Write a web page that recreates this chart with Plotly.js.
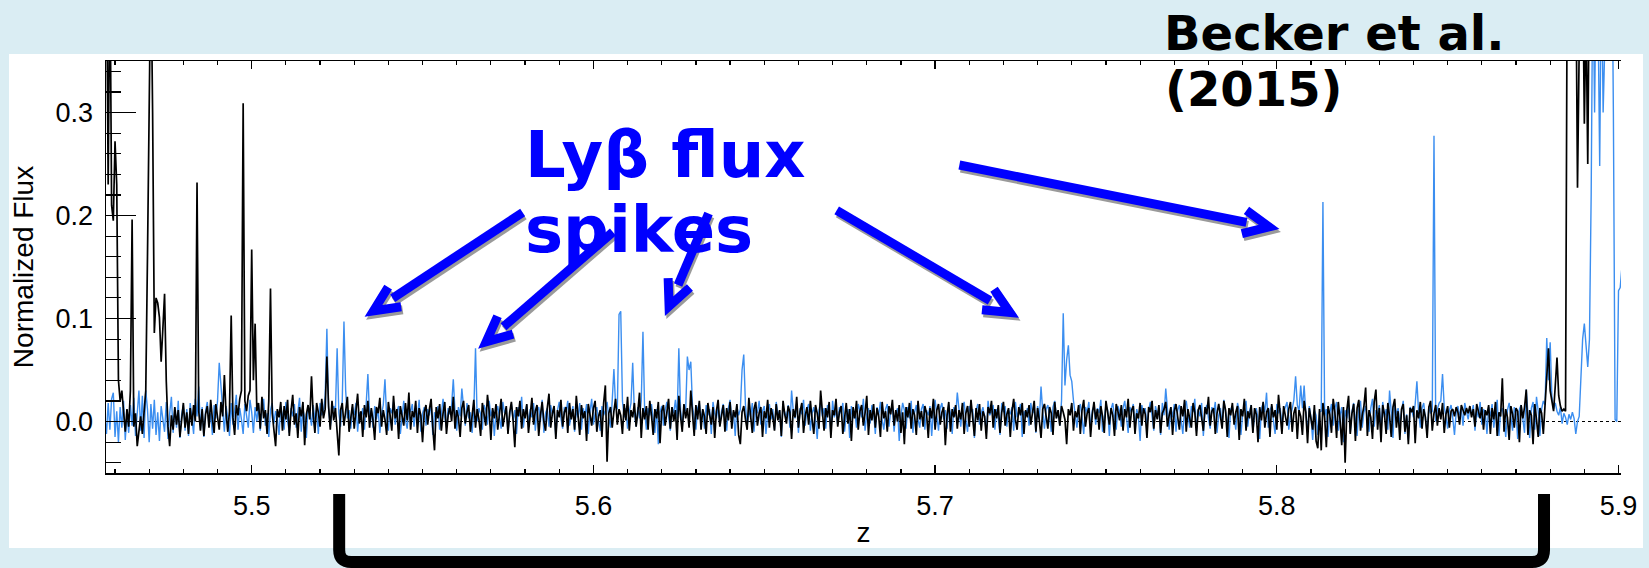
<!DOCTYPE html>
<html>
<head>
<meta charset="utf-8">
<script src="https://cdn.plot.ly/plotly-3.0.1.min.js"></script>
<style>
html,body{margin:0;padding:0;background:#daedf3;}
#chart{width:1649px;height:568px;}
</style>
</head>
<body>
<div id="chart"></div>
<script>
// ---- data: redshift sampling of the spectra ----
const Z_START = 5.457;
const Z_STEP = 0.0005;

// black: Lyman-alpha normalized flux (one value per sample, from Z_START)
const LYA_FLUX = [
0.45,0.45,0.23,0.45,0.21,0.195,0.272,0.23,0.04,0.02,
0.03,0.005,-0.01,0.012,-0.005,0.03,0.196,-0.005,0.008,-0.024,
-0.01,0.005,-0.012,0.008,0.03,0.16,0.45,0.45,0.30,0.086,
0.12,0.115,0.101,0.058,0.09,0.124,0.039,-0.005,-0.024,0.006,
-0.008,0.014,-0.003,0.011,-0.015,0.004,0.018,-0.006,0.009,-0.012,
0.013,-0.004,0.016,0.0,0.232,0.01,-0.009,0.012,-0.014,0.007,
0.015,-0.006,0.021,0.002,-0.011,0.017,0.003,-0.008,0.019,0.005,
0.045,0.008,-0.01,0.01,0.103,0.004,-0.013,0.016,0.006,0.022,
0.03,0.309,0.02,0.01,0.025,0.03,0.167,0.04,0.095,0.01,
0.018,-0.007,0.024,0.003,0.011,-0.012,0.02,0.129,0.008,-0.006,
-0.024,0.012,0.004,0.019,-0.009,0.015,0.002,0.021,-0.014,0.01,
0.026,-0.003,0.008,-0.016,0.014,0.005,0.019,-0.023,0.007,0.016,
0.002,0.044,0.006,-0.011,0.018,0.009,-0.005,0.022,0.003,0.012,
0.063,0.015,-0.008,0.02,0.001,0.013,-0.012,-0.033,0.011,0.018,
-0.004,0.009,0.024,-0.01,0.006,0.017,-0.007,0.012,0.027,-0.002,
0.01,-0.015,0.016,0.004,0.02,-0.006,0.013,0.001,-0.018,0.014,
0.008,0.023,-0.005,0.011,0.002,-0.013,0.019,0.006,-0.009,0.025,
0.003,0.012,-0.017,0.015,0.007,-0.004,0.018,0.001,0.028,-0.008,
0.01,0.004,0.02,-0.011,0.013,0.006,-0.02,0.009,0.016,-0.003,
0.012,0.022,-0.006,-0.028,0.014,0.003,0.017,-0.009,0.008,0.019,
-0.012,0.006,0.015,0.0,0.024,-0.007,0.011,0.004,-0.015,0.013,
0.02,-0.002,0.009,0.016,-0.01,0.005,0.021,-0.006,0.012,0.002,
-0.014,0.018,0.007,-0.004,0.026,0.01,-0.018,0.013,0.003,0.017,
-0.008,0.011,0.022,-0.005,0.006,0.015,-0.012,0.009,0.019,0.001,
-0.025,0.014,0.005,0.02,-0.007,0.012,0.003,0.017,-0.011,0.008,
0.023,-0.003,0.01,0.016,-0.014,0.006,0.019,0.0,-0.009,0.013,
0.027,-0.006,0.008,0.015,-0.017,0.011,0.004,0.021,-0.005,0.009,
0.014,-0.011,0.018,0.002,0.012,-0.008,0.025,0.006,-0.013,0.016,
0.003,0.01,-0.019,0.017,0.007,-0.004,0.013,0.02,-0.01,0.005,
0.011,-0.015,0.018,0.035,-0.039,0.008,0.014,-0.006,0.01,0.022,
-0.003,0.012,0.006,-0.012,0.017,0.001,0.024,-0.009,0.011,0.004,
0.018,-0.005,0.009,0.028,-0.016,0.013,0.002,0.015,-0.008,0.02,
0.006,-0.013,0.012,0.003,0.019,-0.021,0.01,0.016,-0.004,0.008,
0.022,-0.007,0.014,0.0,0.011,-0.018,0.025,0.005,-0.01,0.017,
0.003,0.013,-0.006,0.03,0.009,-0.014,0.016,0.002,0.02,-0.008,
0.012,0.005,-0.012,0.018,0.007,-0.003,0.014,-0.016,0.01,0.021,
-0.005,0.008,0.016,-0.01,0.013,0.001,0.019,-0.007,0.011,0.004,
0.017,-0.013,-0.022,0.009,0.015,0.002,-0.008,0.023,0.006,-0.011,
0.012,0.019,-0.004,0.008,0.014,-0.015,0.01,0.003,0.021,-0.006,
0.013,0.005,-0.009,0.017,0.001,0.011,-0.014,0.02,0.007,-0.002,
0.015,0.009,-0.017,0.012,0.004,0.024,-0.006,0.01,0.018,-0.011,
0.006,0.014,-0.003,0.02,0.002,-0.012,0.016,0.008,-0.007,0.03,
0.01,-0.009,0.013,0.004,0.019,-0.016,0.011,0.006,0.022,-0.005,
0.009,0.015,-0.012,0.007,0.018,-0.002,0.012,-0.019,0.014,0.003,
0.02,-0.008,0.01,0.016,-0.004,0.008,0.025,-0.013,0.011,0.001,
0.017,-0.006,0.013,0.005,-0.015,0.019,0.003,0.01,-0.01,0.015,
0.007,0.021,-0.004,0.011,0.0,0.016,-0.011,0.009,-0.022,0.014,
0.004,0.018,-0.007,0.012,0.006,-0.013,0.02,0.002,0.01,-0.005,
0.015,0.008,-0.016,0.013,0.003,0.022,-0.008,0.011,0.017,-0.003,
0.009,0.014,-0.023,0.006,0.019,-0.01,0.012,0.004,0.016,-0.007,
0.011,0.002,0.018,-0.012,0.008,0.015,-0.005,0.021,0.006,-0.014,
0.013,0.001,0.017,-0.009,0.01,0.005,-0.017,0.014,0.008,0.02,
-0.006,0.012,0.003,0.016,-0.011,0.009,0.019,-0.004,0.007,0.013,
-0.015,0.01,0.022,0.002,-0.008,0.014,0.006,0.018,-0.012,0.011,
0.004,0.016,-0.003,0.009,0.02,-0.01,0.013,0.001,-0.016,0.012,
0.017,0.005,-0.007,0.014,0.008,-0.013,0.019,0.003,0.011,-0.004,
0.015,0.009,0.002,-0.022,0.012,0.006,0.018,-0.009,0.01,0.004,
0.016,-0.012,0.011,0.021,-0.005,0.008,0.013,-0.015,0.007,0.019,
0.002,0.012,-0.008,0.015,0.005,-0.011,0.02,0.009,-0.003,0.013,
0.006,-0.014,0.017,0.01,0.001,0.016,-0.009,0.012,0.004,0.022,
-0.006,0.011,0.015,-0.012,0.008,0.003,0.018,-0.004,0.013,0.007,
-0.016,0.014,0.009,0.02,-0.007,0.011,0.002,0.016,-0.011,0.008,
0.012,0.019,-0.005,0.006,0.014,-0.013,0.01,0.017,0.001,-0.008,
0.015,0.005,0.021,-0.01,0.012,0.003,-0.006,0.018,0.009,-0.014,
0.011,0.016,0.002,-0.009,0.014,0.007,0.024,-0.004,0.01,0.013,
-0.012,0.008,0.017,0.004,-0.007,0.02,0.011,-0.015,0.013,0.006,
0.018,-0.003,0.009,0.015,-0.018,0.012,0.005,0.022,-0.009,0.01,
0.003,0.016,-0.011,0.013,0.007,-0.02,0.014,0.001,0.019,-0.006,
0.009,0.013,-0.015,0.017,0.004,0.011,-0.008,0.026,0.002,-0.012,
0.015,0.007,-0.004,0.012,0.019,-0.01,0.008,0.014,-0.017,0.011,
0.005,-0.013,0.02,0.009,-0.021,0.013,0.003,-0.008,0.016,-0.019,
-0.026,0.012,-0.028,0.018,0.004,-0.025,0.015,0.007,-0.011,0.022,
0.009,-0.016,0.019,0.002,-0.023,0.014,-0.04,0.011,0.025,-0.012,
0.008,0.017,-0.019,0.013,0.021,-0.009,0.006,0.015,0.033,-0.014,
0.011,0.004,-0.017,0.019,0.031,-0.008,0.013,-0.02,0.016,0.007,
-0.012,0.018,0.005,-0.015,0.014,0.022,-0.006,0.01,-0.018,0.012,
0.017,-0.01,0.006,-0.022,0.013,0.009,0.015,-0.021,0.011,0.003,
0.019,-0.007,0.012,0.004,-0.016,0.014,0.02,-0.009,0.008,0.016,
-0.004,0.013,0.002,0.018,-0.011,0.007,0.015,-0.006,0.01,0.012,
0.005,0.014,0.009,-0.003,0.016,0.011,0.006,0.013,0.008,0.015,
0.004,0.012,-0.005,0.017,0.01,0.003,0.014,-0.008,0.011,0.006,
0.016,-0.012,0.013,0.002,0.019,-0.014,0.009,0.005,0.042,-0.01,
0.012,0.004,-0.018,0.015,0.007,-0.006,0.013,0.01,-0.02,0.016,
0.003,0.014,0.031,-0.013,0.011,0.006,-0.022,0.017,0.002,-0.015,
0.013,0.008,-0.012,0.018,0.05,0.071,0.03,0.02,0.01,0.035,
0.062,0.025,0.015,0.01,0.012,0.01,0.45,0.5,0.45,0.5,
0.4,0.45,0.227,0.45,0.5,0.45,0.289,0.4,0.25,0.45
];

// blue: Lyman-beta normalized flux (one value per sample, from Z_START)
const LYB_FLUX = [
0.005,-0.012,0.018,-0.008,0.022,0.028,-0.015,0.01,-0.02,0.014,
-0.006,0.02,-0.018,0.008,-0.011,0.016,-0.004,0.023,-0.014,0.006,
0.03,-0.009,0.025,-0.016,0.03,0.012,-0.02,0.017,-0.007,0.021,
-0.013,0.009,-0.019,0.015,0.002,-0.01,0.019,-0.017,0.008,0.024,
-0.011,0.013,-0.006,0.02,-0.016,0.007,0.016,-0.009,0.012,-0.014,
0.018,0.001,-0.012,0.022,0.005,0.034,-0.008,0.014,-0.015,0.01,
0.019,-0.005,0.008,-0.013,0.016,0.003,0.02,0.057,0.035,0.006,
-0.01,0.015,0.004,-0.014,0.018,-0.003,0.011,0.026,-0.008,0.013,
0.002,-0.012,0.017,0.007,-0.006,0.021,0.009,-0.011,0.014,0.0,
0.016,-0.009,0.012,0.022,-0.004,0.008,-0.015,0.011,0.018,-0.002,
0.01,0.003,-0.013,0.015,0.006,-0.008,0.019,0.001,-0.011,0.013,
0.005,0.017,-0.006,0.009,0.023,-0.01,0.012,0.004,-0.016,0.014,
0.008,-0.004,0.016,0.002,0.011,-0.012,0.018,0.006,0.01,0.025,
0.09,0.012,-0.005,0.008,0.015,0.01,0.071,0.008,-0.005,0.02,
0.097,0.03,0.003,0.011,-0.007,0.014,0.006,0.018,-0.01,0.009,
0.004,0.013,-0.008,0.017,0.046,0.005,0.011,-0.006,0.015,0.002,
0.012,-0.011,0.007,0.016,0.041,0.004,-0.009,0.013,0.008,0.019,
-0.003,0.01,0.015,-0.012,0.006,0.02,0.001,-0.007,0.014,0.009,
0.017,-0.005,0.011,0.003,0.021,-0.01,0.008,0.014,-0.004,0.012,
0.006,0.018,-0.013,0.009,0.002,0.015,-0.008,0.011,0.022,0.004,
-0.006,0.013,0.007,0.016,0.041,0.01,-0.009,0.014,0.005,0.032,
0.012,-0.004,0.018,0.003,0.009,-0.011,0.01,0.071,0.0,0.013,
0.007,-0.008,0.016,0.011,-0.003,0.02,0.005,0.012,-0.014,0.009,
0.015,0.002,-0.007,0.019,0.008,0.013,-0.01,0.006,0.017,0.001,
0.011,-0.012,0.014,0.005,0.024,-0.006,0.009,0.016,-0.002,0.012,
0.004,0.018,-0.009,0.01,0.014,0.0,0.021,-0.011,0.008,0.013,
-0.005,0.016,0.007,0.012,-0.015,0.011,0.019,0.003,-0.007,0.014,
0.009,0.02,-0.004,0.006,0.015,-0.01,0.011,0.004,0.018,-0.008,
0.013,0.005,0.017,-0.012,0.01,0.022,-0.003,0.008,0.014,0.001,
-0.009,0.015,0.006,0.011,0.019,0.004,-0.006,0.02,0.051,0.015,
0.012,0.104,0.107,0.02,0.004,0.013,-0.007,0.009,0.018,0.057,
0.008,-0.005,0.014,0.003,0.02,0.087,0.01,-0.008,0.013,0.006,
0.017,0.002,-0.011,0.012,-0.022,0.009,0.015,-0.004,0.011,0.019,
0.005,-0.009,0.014,0.008,0.021,0.003,0.071,0.012,-0.006,0.016,
0.01,0.063,0.05,0.058,0.015,0.004,-0.008,0.013,0.018,0.002,
0.011,-0.007,0.016,0.006,0.012,-0.012,0.019,0.008,0.003,0.014,
-0.004,0.01,0.017,0.005,-0.009,0.013,0.021,0.001,0.009,-0.014,
0.015,0.006,0.012,0.05,0.065,0.016,-0.005,0.011,0.004,0.018,
-0.01,0.013,0.008,0.02,-0.003,0.01,0.015,-0.012,0.007,0.017,
0.002,0.012,-0.008,0.019,0.006,0.011,-0.015,0.014,0.009,0.004,
0.016,-0.006,0.03,0.01,0.003,0.018,-0.011,0.013,0.007,0.021,
-0.004,0.012,0.017,-0.009,0.008,0.014,0.002,-0.017,0.011,0.019,
0.005,0.013,-0.007,0.016,0.009,-0.013,0.02,0.004,0.011,-0.003,
0.014,0.008,0.018,-0.01,0.006,0.012,-0.016,0.015,0.003,0.01,
-0.006,0.017,0.011,0.004,0.022,-0.009,0.007,0.013,-0.002,0.016,
0.009,-0.012,0.014,0.006,0.019,0.001,-0.008,0.012,0.017,-0.005,
0.01,0.015,-0.01,0.008,0.013,-0.019,0.005,0.018,0.011,-0.007,
0.014,0.003,0.02,-0.011,0.009,0.016,0.002,-0.006,0.012,0.017,
-0.008,0.011,0.006,0.015,-0.014,0.01,0.021,0.004,-0.009,0.013,
0.018,0.002,0.011,-0.007,0.016,0.008,-0.012,0.014,0.005,0.028,
0.007,-0.005,0.013,0.019,0.001,-0.01,0.015,0.009,0.012,-0.016,
0.011,0.017,-0.003,0.008,0.014,0.004,-0.011,0.02,0.006,0.01,
0.016,-0.008,0.012,0.003,-0.013,0.018,0.009,0.015,-0.005,0.011,
0.007,0.014,-0.009,0.019,0.004,0.012,0.017,-0.015,0.01,0.005,
0.013,-0.004,0.018,0.008,0.011,-0.011,0.015,0.002,0.034,0.009,
-0.007,0.012,0.016,0.005,-0.01,0.014,0.02,0.003,0.011,-0.004,
0.02,0.105,0.035,0.06,0.074,0.045,0.039,0.02,0.008,-0.006,
0.012,0.017,0.004,-0.012,0.014,0.009,0.019,-0.007,0.011,0.015,
-0.003,0.013,0.008,0.021,-0.01,0.006,0.016,0.011,-0.014,0.012,
0.018,0.004,-0.008,0.015,0.01,-0.005,0.013,0.02,0.002,-0.011,
0.014,0.009,0.017,-0.006,0.012,0.005,-0.019,0.016,0.008,0.013,
-0.004,0.011,0.019,0.003,-0.009,0.015,0.007,0.012,-0.013,0.018,
0.006,0.032,0.01,-0.008,0.014,0.004,0.017,-0.01,0.011,0.016,
0.001,-0.012,0.013,0.02,0.007,-0.006,0.015,0.009,0.022,-0.009,
0.012,0.005,0.018,-0.014,0.01,0.016,0.003,-0.007,0.014,0.008,
0.019,-0.011,0.006,0.013,-0.004,0.021,0.009,0.002,-0.016,0.012,
0.015,0.004,-0.008,0.018,0.011,-0.013,0.007,0.014,0.02,-0.005,
0.01,0.016,-0.01,0.006,0.013,0.003,-0.017,0.012,0.018,0.009,
0.028,-0.006,0.011,0.015,0.002,-0.012,0.017,0.008,0.013,-0.003,
0.009,0.014,0.019,-0.008,0.006,0.012,0.021,0.044,0.016,0.01,
0.035,0.013,0.035,0.007,-0.01,0.015,0.004,-0.018,0.011,0.006,
-0.013,0.009,0.01,0.213,0.005,0.012,-0.015,0.008,0.017,-0.004,
0.013,0.019,-0.009,0.006,0.014,-0.02,0.011,0.003,0.016,-0.011,
0.01,0.018,0.004,-0.014,0.012,0.02,-0.006,0.009,0.015,0.001,
-0.01,0.013,0.022,-0.005,0.011,0.007,0.016,-0.012,0.019,0.004,
0.012,-0.008,0.03,0.009,-0.016,0.018,0.006,0.013,-0.003,0.01,
0.02,-0.012,0.007,-0.018,0.014,0.011,0.004,0.017,0.039,0.009,
-0.006,0.013,0.018,0.002,-0.011,0.015,0.008,0.01,0.2775,0.0,
0.012,0.018,0.02,0.046,0.014,0.005,-0.007,0.011,0.016,0.003,
-0.013,0.009,0.015,0.006,0.012,-0.004,0.018,0.01,0.002,0.013,
0.007,0.016,-0.009,0.011,0.004,0.019,-0.003,0.012,0.008,-0.012,
0.014,0.005,0.017,-0.006,0.01,0.021,-0.014,0.009,0.013,0.002,
-0.015,0.011,0.018,0.004,-0.009,0.014,0.007,-0.017,0.012,0.016,
0.003,-0.011,0.031,0.008,-0.016,0.013,0.019,-0.008,0.024,0.01,
-0.014,0.012,0.02,0.016,0.081,0.04,0.077,0.025,0.012,0.018,
0.01,0.006,0.014,-0.002,0.008,0.004,-0.003,0.007,0.002,0.009,
0.003,-0.012,0.0,0.005,0.04,0.08,0.095,0.07,0.053,0.08,
0.22,0.45,0.3,0.45,0.4,0.248,0.45,0.3,0.5,0.45,
0.5,0.42,0.5,0.3,0.002,0.0,0.127,0.13,0.15
];

// axis ticks
const X_TICKS = [5.5, 5.6, 5.7, 5.8, 5.9];
const X_TICK_LABELS = ['5.5', '5.6', '5.7', '5.8', '5.9'];
const Y_TICKS = [0.0, 0.1, 0.2, 0.3];
const Y_TICK_LABELS = ['0.0', '0.1', '0.2', '0.3'];

// annotation arrows: tip (pointed spike) and tail, in (z, flux)
const ARROW_TIP_Z  = [5.5332, 5.5664, 5.6210, 5.7244, 5.8006];
const ARROW_TIP_F  = [0.102, 0.071, 0.103, 0.101, 0.187];
const ARROW_TAIL_Z = [5.5793, 5.6057, 5.6337, 5.6712, 5.7071];
const ARROW_TAIL_F = [0.203, 0.184, 0.202, 0.205, 0.249];

// bracket under the axis, z range of the region
const BRACKET_Z = [5.5256, 5.8782];

// ---- layout constants ----
const W = 1649, H = 568;
const M = {l: 106, r: 28, t: 61, b: 95};
const PW = W - M.l - M.r, PH = H - M.t - M.b;
const X_RANGE = [5.45736, 5.90073];
const Y_RANGE = [-0.05, 0.35];
const kx = PW / (X_RANGE[1] - X_RANGE[0]);
const ky = PH / (Y_RANGE[1] - Y_RANGE[0]);
function toPx(z, f) { return [(z - X_RANGE[0]) * kx, (Y_RANGE[1] - f) * ky]; }
function toData(px, py) { return [X_RANGE[0] + px / kx, Y_RANGE[1] - py / ky]; }
function pathOf(pts) {
  return pts.map((p, i) => (i ? 'L' : 'M') + p[0].toFixed(6) + ',' + p[1].toFixed(6)).join(' ');
}

const BLUE = '#0000ff';
const SHADOW = '#9a9a9a';

const shapes = [];
// white panel
shapes.push({type: 'rect', xref: 'paper', yref: 'paper', layer: 'below',
  x0: (9 - M.l) / PW, x1: (1643 - M.l) / PW, y0: (M.t + PH - 548) / PH, y1: (M.t + PH - 54) / PH,
  line: {width: 0}, fillcolor: '#ffffff'});
// dotted zero line
shapes.push({type: 'line', xref: 'paper', yref: 'y', x0: 0, x1: 1, y0: 0, y1: 0, layer: 'below',
  line: {color: '#000', width: 1, dash: 'dot'}});

function arrowShapes(i, dx, dy, color) {
  const T = toPx(ARROW_TIP_Z[i], ARROW_TIP_F[i]);
  const S = toPx(ARROW_TAIL_Z[i], ARROW_TAIL_F[i]);
  let ux = T[0] - S[0], uy = T[1] - S[1];
  const L = Math.hypot(ux, uy); ux /= L; uy /= L;
  const V = [T[0] - ux * 10, T[1] - uy * 10];
  const E = [T[0] - ux * 33, T[1] - uy * 33];
  const a = 25 * Math.PI / 180, arm = 28;
  const bx = -ux, by = -uy;
  const r1 = [bx * Math.cos(a) - by * Math.sin(a), bx * Math.sin(a) + by * Math.cos(a)];
  const r2 = [bx * Math.cos(-a) - by * Math.sin(-a), bx * Math.sin(-a) + by * Math.cos(-a)];
  const A1 = [V[0] + r1[0] * arm, V[1] + r1[1] * arm];
  const A2 = [V[0] + r2[0] * arm, V[1] + r2[1] * arm];
  const conv = pts => pts.map(p => toData(p[0] + dx, p[1] + dy));
  const common = {type: 'path', xref: 'x', yref: 'y', layer: 'above',
    fillcolor: 'rgba(0,0,0,0)', line: {color: color, width: 9}};
  return [
    Object.assign({}, common, {path: pathOf(conv([S, E]))}),
    Object.assign({}, common, {path: pathOf(conv([A1, V, A2]))})
  ];
}
for (let i = 0; i < ARROW_TIP_Z.length; i++) shapes.push(...arrowShapes(i, 1.5, 3, SHADOW));
for (let i = 0; i < ARROW_TIP_Z.length; i++) shapes.push(...arrowShapes(i, 0, 0, BLUE));

// bracket
(function () {
  const top = (M.t + PH - 494) / PH, bot = (M.t + PH - 562) / PH;
  const rz = 12 / kx, ry = 12 / PH;
  const zl = BRACKET_Z[0], zr = BRACKET_Z[1];
  const p = `M ${zl},${top} L ${zl},${bot + ry} Q ${zl},${bot} ${zl + rz},${bot} L ${zr - rz},${bot} Q ${zr},${bot} ${zr},${bot + ry} L ${zr},${top}`;
  shapes.push({type: 'path', xref: 'x', yref: 'paper', layer: 'above', path: p,
    fillcolor: 'rgba(0,0,0,0)', line: {color: '#000', width: 12}});
})();

const boldFont = (size, color) => ({family: 'DejaVu Sans, Verdana, sans-serif', size: size, color: color, weight: 'bold'});
const annotations = [
  {text: 'Lyβ flux', xref: 'paper', yref: 'paper', x: (523 - M.l) / PW, y: (M.t + PH - 115.6) / PH,
   xanchor: 'left', yanchor: 'top', showarrow: false, font: boldFont(64, BLUE)},
  {text: 'spikes', xref: 'paper', yref: 'paper', x: (523 - M.l) / PW, y: (M.t + PH - 191.3) / PH,
   xanchor: 'left', yanchor: 'top', showarrow: false, font: boldFont(64, BLUE)},
  {text: 'Becker et al.', xref: 'paper', yref: 'paper', x: (1161.5 - M.l) / PW, y: (M.t + PH - 2.8) / PH,
   xanchor: 'left', yanchor: 'top', showarrow: false, font: boldFont(48, '#000')},
  {text: '(2015)', xref: 'paper', yref: 'paper', x: (1162.5 - M.l) / PW, y: (M.t + PH - 59.5) / PH,
   xanchor: 'left', yanchor: 'top', showarrow: false, font: boldFont(48, '#000')}
];

const traces = [
  {type: 'scatter', mode: 'lines', name: 'Lyβ', x0: Z_START, dx: Z_STEP, y: LYB_FLUX,
   line: {color: '#3b8ef0', width: 1.4}, hoverinfo: 'skip'},
  {type: 'scatter', mode: 'lines', name: 'Lyα', x0: Z_START, dx: Z_STEP, y: LYA_FLUX,
   line: {color: '#000000', width: 1.7}, hoverinfo: 'skip'}
];

const tickFont = {family: 'Liberation Sans, Arial, sans-serif', size: 27, color: '#000'};
const titleFont = {family: 'Liberation Sans, Arial, sans-serif', size: 28, color: '#000'};

const layout = {
  width: W, height: H,
  margin: {l: M.l, r: M.r, t: M.t, b: M.b, pad: 0},
  paper_bgcolor: '#daedf3',
  plot_bgcolor: '#ffffff',
  showlegend: false,
  hovermode: false,
  xaxis: {
    range: X_RANGE, tickmode: 'array', tickvals: X_TICKS, ticktext: X_TICK_LABELS,
    ticks: 'inside', ticklen: 8, tickwidth: 1.3, tickcolor: '#000',
    showline: true, linecolor: '#000', linewidth: 1.5, mirror: 'ticks',
    showgrid: false, zeroline: false, tickfont: tickFont, ticklabelstandoff: 8,
    minor: {tickmode: 'linear', tick0: 5.5, dtick: 0.01, ticks: 'inside', ticklen: 4, tickwidth: 1.2, tickcolor: '#000', showgrid: false},
    title: {text: 'z', font: titleFont, standoff: 2},
    fixedrange: true
  },
  yaxis: {
    range: Y_RANGE, tickmode: 'array', tickvals: Y_TICKS, ticktext: Y_TICK_LABELS,
    ticks: 'inside', ticklen: 30, tickwidth: 1.3, tickcolor: '#000',
    showline: true, linecolor: '#000', linewidth: 1.5, mirror: false,
    showgrid: false, zeroline: false, tickfont: tickFont, ticklabelstandoff: 6,
    minor: {tickmode: 'linear', tick0: 0, dtick: 0.02, ticks: 'inside', ticklen: 15, tickwidth: 1.2, tickcolor: '#000', showgrid: false},
    title: {text: 'Normalized Flux', font: titleFont, standoff: 14},
    fixedrange: true
  },
  yaxis2: {
    overlaying: 'y', side: 'right', anchor: 'x',
    range: Y_RANGE, tickmode: 'array', tickvals: Y_TICKS, showticklabels: false,
    ticks: 'inside', ticklen: 25, tickwidth: 1.3, tickcolor: '#000',
    showline: true, linecolor: '#000', linewidth: 1.5,
    showgrid: false, zeroline: false,
    minor: {tickmode: 'linear', tick0: 0, dtick: 0.02, ticks: 'inside', ticklen: 10, tickwidth: 1.2, tickcolor: '#000', showgrid: false},
    fixedrange: true
  },
  shapes: shapes,
  annotations: annotations
};

Plotly.newPlot('chart', traces, layout, {displayModeBar: false, staticPlot: true});
</script>
</body>
</html>
